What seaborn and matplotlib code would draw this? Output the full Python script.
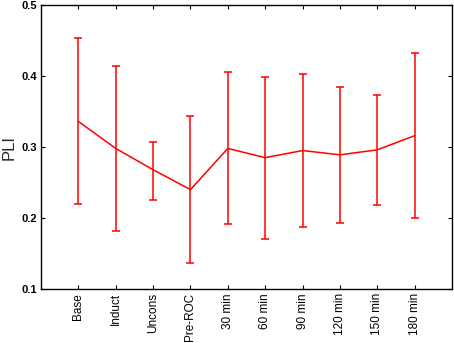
import numpy as np
import pandas as pd
import matplotlib
matplotlib.use("Agg")
import matplotlib.pyplot as plt
import seaborn as sns

# Values
stages = ["Base", "Induct", "Uncons", "Pre-ROC", "30 min", "60 min",
          "90 min", "120 min", "150 min", "180 min"]
pli_mean = [0.336, 0.298, 0.268, 0.240, 0.298, 0.285, 0.295, 0.289, 0.296, 0.316]
pli_upper = [0.453, 0.414, 0.307, 0.344, 0.405, 0.398, 0.403, 0.385, 0.373, 0.432]
pli_lower = [0.220, 0.182, 0.226, 0.136, 0.192, 0.171, 0.188, 0.193, 0.218, 0.200]

df = pd.DataFrame({"stage": stages, "pli": pli_mean,
                   "upper": pli_upper, "lower": pli_lower})

sns.set_style("ticks")
plt.rcParams["font.family"] = ["Liberation Sans", "DejaVu Sans"]

fig = plt.figure(figsize=(4.54, 3.43), dpi=100)
ax = fig.add_axes([0.0903, 0.1574, 0.9053, 0.828])

sns.lineplot(data=df, x="stage", y="pli", color="red", linewidth=1.1,
             sort=False, ax=ax)
yerr = np.array([df["pli"] - df["lower"], df["upper"] - df["pli"]])
ax.errorbar(np.arange(len(df)), df["pli"], yerr=yerr, fmt="none",
            ecolor="red", elinewidth=1.1, capsize=3, capthick=1.1)

ax.set_xlim(-1, len(stages))
ax.set_ylim(0.1, 0.5)
ax.set_yticks([0.1, 0.2, 0.3, 0.4, 0.5])
ax.set_xticks(np.arange(len(stages)))
ax.set_xticklabels(stages, rotation=90, fontsize=8.5)
for t in ax.get_yticklabels():
    t.set_fontsize(8)
    t.set_fontweight("bold")
ax.set_xlabel("")
ax.set_ylabel("PLI", fontsize=12, labelpad=3)

for s in ax.spines.values():
    s.set_visible(True)
    s.set_color("black")
    s.set_linewidth(1.0)
ax.tick_params(direction="in", top=True, right=True, length=3, width=0.8,
               colors="black", pad=3)

fig.savefig("out.png", dpi=100)
